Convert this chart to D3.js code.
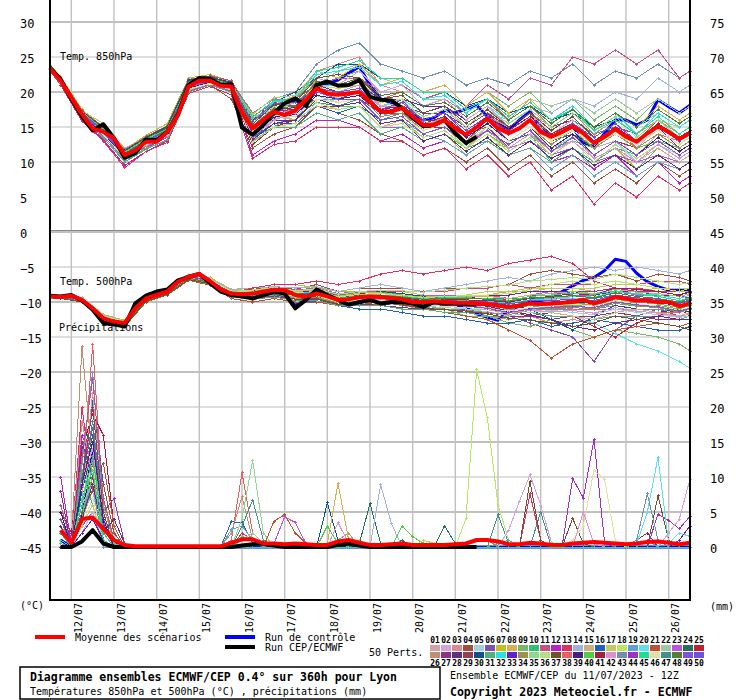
<!DOCTYPE html>
<html>
<head>
<meta charset="utf-8">
<script src="https://cdn.jsdelivr.net/npm/d3@7"></script>
<style>
body { margin: 0; background: #fff; }
text { font-family: "DejaVu Sans Mono", monospace; fill: #000; }
</style>
</head>
<body>
<svg id="chart" width="740" height="700"></svg>
<script>
// axis labels
var leftTicks = [30, 25, 20, 15, 10, 5, 0, -5, -10, -15, -20, -25, -30, -35, -40, -45];
var rightTicks = [75, 70, 65, 60, 55, 50, 45, 40, 35, 30, 25, 20, 15, 10, 5, 0];
var dayLabels = ["12/07", "13/07", "14/07", "15/07", "16/07", "17/07", "18/07", "19/07", "20/07", "21/07", "22/07", "23/07", "24/07", "25/07", "26/07"];

// 6-hourly series, from 0h (11/07 12Z) to 360h
var t850Mean = [23.4,21.6,19.2,16.8,14.8,14.3,13.4,11.0,11.7,12.9,12.9,14.3,16.7,20.8,21.6,21.6,20.9,20.8,17.0,14.8,16.0,17.2,16.7,17.4,18.9,20.5,19.8,19.6,19.8,20.0,18.6,17.2,17.2,17.7,16.5,15.3,15.3,16.0,14.8,13.9,15.0,16.2,14.8,14.1,14.8,16.0,14.3,13.6,14.3,15.1,14.1,12.7,13.6,14.7,13.6,12.9,14.1,15.1,14.3,13.3,14.1];
var t850Ctrl = [23.5,21.7,19.3,16.6,14.6,14.5,13.0,10.7,11.6,13.1,13.0,14.4,16.8,20.8,21.6,21.7,21.0,20.8,15.2,13.6,15.0,16.8,18.0,18.8,18.2,20.6,21.2,21.7,22.7,23.6,21.0,19.0,18.5,17.8,16.8,16.0,16.3,17.4,17.0,17.6,18.1,16.5,15.5,14.6,16.0,17.2,14.8,13.6,14.3,15.0,12.7,12.2,14.1,16.0,16.0,15.3,16.0,18.9,17.9,17.0,18.1];
var t850Cep = [23.5,21.8,19.0,16.5,14.5,15.4,13.4,10.6,11.3,13.2,13.1,14.3,16.8,21.0,22.0,21.9,21.0,21.1,14.9,13.9,15.3,17.0,18.4,19.1,18.0,21.0,21.5,20.9,21.0,21.7,19.3,18.9,18.8,17.7,16.3,15.1,15.3,16.0,14.1,12.7,13.6];
var t500Mean = [-9.2,-9.3,-9.1,-9.7,-10.9,-12.3,-12.8,-13.0,-10.9,-9.5,-9.0,-8.5,-7.1,-6.4,-6.0,-7.0,-8.2,-8.8,-8.9,-8.8,-8.5,-8.3,-8.3,-9.0,-9.2,-8.8,-9.2,-9.7,-9.6,-9.3,-9.2,-9.3,-9.4,-9.6,-10.0,-10.0,-9.9,-10.0,-10.1,-10.1,-10.2,-10.3,-10.5,-10.7,-10.5,-10.2,-10.3,-10.2,-10.1,-10.0,-9.7,-10.2,-9.8,-9.3,-9.5,-9.8,-9.8,-10.0,-10.0,-10.6,-10.2];
var t500Ctrl = [-9.2,-9.3,-9.1,-9.8,-11.0,-12.8,-13.1,-13.3,-10.4,-9.2,-8.6,-8.3,-7.0,-6.4,-6.1,-7.2,-8.4,-9.0,-9.1,-9.4,-9.1,-8.6,-8.9,-10.5,-9.6,-8.4,-9.1,-9.8,-10.3,-10.1,-9.8,-10.2,-10.1,-10.1,-10.3,-10.6,-10.2,-10.3,-10.4,-10.8,-11.7,-12.2,-12.6,-11.1,-10.6,-10.0,-9.8,-9.5,-8.5,-7.7,-6.9,-6.5,-5.5,-3.9,-4.2,-5.9,-7.1,-7.8,-8.3,-8.3,-8.3];
var t500Cep = [-9.1,-9.2,-9.0,-9.8,-11.1,-13.0,-13.2,-13.5,-10.2,-9.1,-8.5,-8.2,-6.9,-6.4,-6.0,-7.3,-8.5,-9.0,-9.2,-9.5,-9.0,-8.5,-8.8,-10.9,-9.7,-8.2,-9.0,-9.7,-10.4,-10.0,-9.7,-10.2,-10.0,-10.0,-10.2,-10.7,-10.0,-10.2,-10.2,-10.3,-10.4];

// 6h precipitation (mm), from 6h to 360h
var rrMean = [2.4,0.6,4.0,4.2,2.6,1.0,0.3,0.1,0.1,0.1,0.1,0.1,0.1,0.1,0.1,0.1,0.6,1.1,1.1,0.5,0.5,0.4,0.5,0.4,0.3,0.3,0.8,1.0,0.6,0.3,0.3,0.4,0.5,0.3,0.3,0.3,0.3,0.4,0.5,1.0,1.0,0.8,0.4,0.4,0.6,0.5,0.3,0.3,0.5,0.6,0.7,0.6,0.5,0.4,0.5,0.7,0.8,0.6,0.4,0.6];
var rrCtrl = [1,0,4,13.8, 3,0.5,0,0, 0,0,0,0, 0,0,0,0, 0,0,0,0, 0,0,0,0, 0,0,0,0, 0,0,0,0, 0,0,0,0, 0,0,0,0, 0,0,0,0, 0,0,0,0, 0,0,0,0, 0,0,0,0, 0,0,0,0];
var rrCep = [0,0,0.8,2.4, 0.5,0,0,0, 0,0,0,0, 0,0,0,0, 0,0.2,0.4,0.5, 0.2,0,0,0, 0,0,0.3,0.5, 0.2,0,0,0, 0,0,0,0, 0,0,0,0];

// perturbed members, temperatures every 12h (0h, 6h, 18h ... 354h, 360h)
var pertIds = [1,3,4,6,7,9,10,12,43,14,16,17,19,20,21,22,23,24,25,11,13,27,29,30,31,33,38,40,44,47,
  2,5,8,15,18,26,28,32,34,35,36,37,39,41,42,45,46,48,49,50];
var t850Perts = [
  [23.6,22,17,15,12,13.5,15,21,21.5,20,13,16,17,22,21,22,18,19,17,18,15,17,15,17,13,15,12,13,11,14,12,13],
  [23.2,21.5,16.5,14,10.5,12.5,14,20.5,21,21,16,18,19,23,24,25,21,20,18,19,16,18,16,19,16,18,15,17,15,18,16,17],
  [23.5,21.8,17.2,14.8,11.5,13,14,20,21,19,12,14,15,18,17,16,14,13,11,12,10,12,9,11,8,10,7,9,7,10,8,9],
  [23,21,16,13.5,10,12,13.5,20,22,21.5,15.5,18.5,18,21,20,21,17,18,16,17,14,16,13,15,12,14,11,13,11,13,11,12],
  [23.8,22.2,17.5,15,11.8,13.8,15.5,22,22.5,21.5,14,17,16,19,18,18,15,16,13,14,11,13,12,14,11,12,10,12,9,11,10,11],
  [23.3,21.4,16.4,13.8,10.2,12,13,20,21.8,21.2,15,17.5,18.5,21,22,23,20,21,19,20,18,20,18,20,17,19,16,18,16,19,17,18],
  [23.4,21.6,16.8,14.5,11.2,13.2,14.5,21.2,21.5,20.5,14.5,16.5,17,20,19,19,16,17,14,15,12,14,12,14,10,12,9,11,9,12,10,11],
  [23.1,21.2,16,13.2,9.5,11.5,13,20,21.2,20,11,13,14,16,16,15,13,14,12,13,11,13,11,12,10,11,9,11,8,10,7,8],
  [23.7,22,17,14.8,11.8,13.5,15,21.5,22,21.5,17,19,20,24,26,27,24,23,22,23,21,22,21,23,22,24,21,23,22,24,22,23],
  [23.5,21.7,17,14,10.8,12.8,14.2,21,21.7,20.8,14.8,17,18,20,19,20,18,19,16,17,15,17,16,18,17,19,18,20,19,22,20,21],
  [23.2,21.4,16.5,14.2,10.9,12.6,14,20.5,21.3,20.3,13.5,15.5,15.5,18,17,18,16,17,15,16,13,15,13,15,13,14,11,13,12,14,12,13],
  [23.6,21.9,17.3,15.5,11.5,13,14.5,21,21.8,21,15,17,17,21,19,19,16,17,14,15,12,15,13,15,12,14,12,15,13,16,15,16],
  [23.4,21.5,16.6,14,10.5,12.4,13.8,20.5,21.5,20.5,13,15,17,19,19,20,17,16,14,13,11,13,11,12,9,11,8,10,8,10,9,10],
  [23.5,21.8,17.1,14.6,11.2,13.1,14.6,21,21.9,21,16,18,18,21,21,21,19,19,17,18,16,18,16,18,16,17,15,17,15,17,15,16],
  [23.3,21.5,16.8,14.3,11,12.8,14.4,20.8,21.4,20.7,15,17.5,17,20,20,21,18,18,16,16,14,15,13,15,13,15,13,15,13,16,14,15],
  [23.6,21.8,17,14.4,11,13,14.6,21.3,22,21.6,14,16,18,21,23,24,22,21,19,19,17,19,17,19,18,19,17,19,17,19,17,18],
  [23.2,21.3,16.3,13.8,10.4,12.2,13.6,20.3,21,20.2,14,16.5,16,19,18,18,15,15,13,14,12,14,12,13,11,12,10,11,10,11,10,11],
  [23.5,21.7,17,14.8,11.5,13.4,15,21.6,22.2,21.3,15.5,18,19,22,21,21,18,18,16,16,13,15,13,14,12,14,12,14,12,15,13,14],
  [23.4,21.6,16.7,14.1,10.6,12.6,14,20.6,21.4,20.4,12.5,15,16,18,18,19,17,17,16,17,15,17,14,16,14,16,14,16,14,16,14,15],
  [23.7,22.1,17.3,15,11.7,13.6,15.2,21.8,22.3,21.6,16.5,18.5,19,21,22,22,20,21,19,20,18,21,19,22,21,25,24,26,24,26,22,23],
  [23,21,15.8,13,9.2,11.5,12.8,19.8,20.8,19.6,10.5,12.5,13,15,15,15,13,13,11,12,9,11,8,10,6,8,4,7,5,8,6,7],
  [23.5,21.8,17,14.4,11.2,13,14.4,20.9,21.7,20.9,14.8,17.3,17.5,19,18,19,17,18,17,17,15,17,15,17,15,16,14,15,13,15,13,14],
  [23.3,21.5,16.7,14.3,11,12.9,14.3,20.9,21.5,20.6,15.5,18,18,20,19,20,17,17,15,15,13,15,12,14,12,14,11,13,12,14,12,13],
  [23.6,21.9,17.2,14.9,11.6,13.5,15.1,21.7,22.1,21.4,16,18.5,20,22,24,24,22,22,20,20,18,19,17,18,16,17,15,16,14,16,14,15],
  [23.1,21.2,16.2,13.5,10,11.8,13.2,20,21,20,13.5,15,15,17,16,17,14,15,13,14,12,13,11,12,10,12,10,12,11,13,11,12],
  [23.4,21.6,16.9,14.4,11.1,13,14.4,21,21.6,20.8,14,16,16,20,20,21,19,19,18,18,16,18,15,17,14,16,13,15,13,15,12,13],
  [23.5,21.7,17,14.6,11.3,13.2,14.7,21.1,21.8,21,17,19,19,22,21,22,19,20,18,19,17,19,16,18,15,17,14,15,12,14,13,14],
  [23.2,21.4,16.5,14,10.7,12.5,13.9,20.4,21.2,20.3,14.5,17,17,19,18,18,15,16,13,14,12,14,12,14,12,13,12,14,12,13,12,13],
  [23.5,21.8,17.1,14.7,11.4,13.3,14.8,21.3,21.9,21.2,15,16.5,18,21,20,20,17,19,15,16,13,16,14,16,13,15,13,15,14,17,15,16],
  [23.3,21.5,16.6,14.2,10.9,12.7,14.1,20.6,21.4,20.5,14.2,16.8,16.5,18.5,18,19,16,17,15,16,14,16,14,16,14,16,14,15,13,15,13,14],
  [23.5,21.7,16.9,14.4,11.1,13,14.4,20.9,21.7,20.9,15.2,17.8,18.5,22,21,23,20,21,18,19,16,18,15,17,14,16,13,14,12,15,13,14],
  [23.3,21.4,16.6,14.1,10.8,12.7,14.1,20.6,21.4,20.6,13.8,16.2,16.5,19.5,18.5,19,16,16.5,14,15,12.5,15,13,15,12,13.5,11,13,10,12.5,11,12],
  [23.6,21.9,17.2,14.7,11.4,13.3,14.8,21.2,21.9,21.2,16.2,18.2,19.5,23,22,24,21,22,20,21,18,20,17,19,16,18,15,17,15,18,16,17],
  [23.2,21.3,16.4,13.9,10.6,12.4,13.8,20.3,21.2,20.4,14.2,16.5,16,18,17.5,18,15,16,13.5,14.5,12,14.5,12.5,14.5,12,14,10.5,12,10,12,10,11],
  [23.4,21.6,16.8,14.3,11,12.9,14.3,20.8,21.6,20.8,15.6,18,18,21,20.5,21,18.5,19,16,17,14.5,16.5,14,16,13,15,12,14,12,14,12,13],
  [23.5,21.8,17,14.5,11.2,13.1,14.5,21,21.8,21,14.5,16.8,17.5,20.5,19.5,20,17,17.5,15,16.5,14,16.5,15,17,15,17,14,16,14,16,14,15],
  [23.3,21.5,16.7,14.2,10.9,12.8,14.2,20.7,21.5,20.7,13.2,15.5,16,19,18,18.5,15.5,16,13,14,11.5,13.5,11,13,10.5,12,9.5,11,9,11,9,10],
  [23.6,21.8,17.1,14.6,11.3,13.2,14.6,21.1,21.8,21.1,15.8,18.6,19,22.5,23,23.5,21,21.5,19,19.5,17,19,16.5,18.5,16,18,15,17,14,17,15,16],
  [23.4,21.5,16.7,14.2,10.9,12.8,14.2,20.7,21.5,20.7,14.6,17,17,20,19,19.5,16.5,17,14.5,15.5,13,15.5,13,15,12.5,14.5,12,14,12,14,12,13],
  [23.5,21.7,16.9,14.4,11.1,13,14.4,20.9,21.7,20.9,16.8,19.2,19.5,21.5,21,21.5,18,18.5,16.5,17.5,15,17.5,15.5,17.5,15,17,14.5,16.5,13.5,16,13.5,14.5],
  [23.2,21.4,16.5,14,10.7,12.6,14,20.5,21.3,20.5,12.8,15,15.5,18.5,17.5,18,15,15.5,13.5,14.5,12,14,11.5,13.5,11,13,10,12.5,10.5,12.5,10.5,11.5],
  [23.6,21.9,17.2,14.8,11.5,13.4,14.9,21.4,22,21.3,15.4,18.2,18.5,22,22.5,22,19,19.5,17,18,15.5,17.5,15,17,14.5,16.5,13.5,15.5,13,15.5,13,14],
  [23.3,21.5,16.6,14.1,10.8,12.7,14.1,20.6,21.4,20.6,14,16.4,16.8,19.5,19,19.5,17,17.5,15.5,16,13.5,15.5,13,15,12,14,11,13,11,13.5,11.5,12.5],
  [23.5,21.7,17,14.5,11.2,13.1,14.5,21,21.7,20.9,15,17.4,17.8,21,20,20.5,17.5,18,15.5,16.5,14,16.5,14.5,16.5,14,15.5,13,15,13,15.5,13.5,14.5],
  [23.4,21.6,16.8,14.3,11,12.9,14.3,20.8,21.6,20.8,13.6,16,17,20,20,21,18,18,15.5,16,13,14.5,12,14,11.5,13,10.5,12,10,12.5,10.5,11.5],
  [23.6,21.9,17.1,14.7,11.4,13.3,14.7,21.2,21.9,21.1,16.4,18.8,19,23,23.5,24.5,22,22,20,20,17.5,19,16.5,18.5,16,17.5,14.5,16,14,16.5,14,15],
  [23.2,21.3,16.4,13.9,10.6,12.5,13.9,20.4,21.2,20.3,14.4,16.6,16.5,19,18.5,19,16,16.5,14.5,15.5,13,15,13,15,13,14.5,12.5,14,12.5,14.5,12.5,13.5],
  [23.5,21.8,17,14.5,11.2,13.1,14.6,21.1,21.8,21,15.2,17.6,18,21.5,21,22,19.5,20,18,18.5,16.5,18.5,16,18,15.5,17.5,15,17,15,17.5,15.5,16.5],
  [23.3,21.5,16.7,14.2,10.9,12.8,14.2,20.7,21.5,20.6,14.8,16.8,17.2,20,19,19,16,16.5,14,15,12.5,14.5,12.5,14.5,11.5,13.5,11,13,11,13,11,12],
  [23.4,21.7,16.9,14.4,11.1,13,14.4,20.9,21.6,20.8,15.8,18.4,18.5,20.5,20,20.5,17.5,18.5,16,17,14.5,16.5,14,16,13.5,15.5,13.5,15.5,13,15,13,14]
];
var t500Perts = [
  [-9.0,-9.1,-9.5,-12,-12.8,-9.3,-8.2,-6.2,-6.8,-8.5,-8.5,-8,-8.5,-8,-9,-8.5,-8.5,-9,-9.5,-9,-9.5,-9.5,-10,-9.5,-9.5,-9,-9.5,-8.5,-9,-9,-9.5,-9],
  [-9.3,-9.4,-9.9,-12.5,-13.3,-9.8,-8.8,-6.6,-7.3,-9.1,-9.3,-9,-9.8,-9.5,-10.5,-10,-10,-10.5,-11,-11,-11.5,-12,-12.5,-12,-13,-12.5,-13,-12,-12.5,-13,-13.5,-13],
  [-9.1,-9.2,-9.6,-12.2,-12.9,-9.4,-8.4,-6.3,-6.9,-8.6,-8.2,-7.8,-8.2,-7.5,-8.5,-8,-8,-8,-8.5,-8,-8,-8,-7.5,-6,-5.5,-6,-6.5,-6,-7,-6,-6.5,-7],
  [-9.2,-9.3,-9.8,-12.4,-13.1,-9.6,-8.6,-6.5,-7.1,-9,-9.2,-8.8,-9.5,-9.2,-10,-10,-10.5,-10,-10.5,-11,-11,-11.5,-12,-13,-14,-15,-18.5,-14,-12,-11,-12,-11.5],
  [-9.0,-9.0,-9.4,-11.8,-12.6,-9.2,-8.1,-6,-6.5,-8.2,-8,-7.5,-7.5,-8,-8.5,-8.5,-8.5,-9,-9,-9.5,-9,-9,-8.5,-8.5,-8,-8,-8.5,-8,-8.5,-8,-8.5,-8.5],
  [-9.4,-9.5,-10,-12.6,-13.4,-10,-9,-6.8,-7.5,-9.3,-9.5,-9,-9,-9.5,-10,-9.5,-10,-10.5,-10.5,-11,-12,-12,-13,-13.5,-12.5,-14,-15,-14,-14.5,-15,-16,-17],
  [-9.2,-9.3,-9.7,-12.3,-13,-9.5,-8.5,-6.4,-7,-8.8,-8.8,-8.3,-9,-8.8,-9.7,-9.3,-9.3,-9.6,-10,-10,-10,-10,-10.5,-10,-10,-10,-10.5,-10,-10,-10,-10.5,-10],
  [-9.1,-9.2,-9.6,-12.1,-12.8,-9.3,-8.3,-6.2,-6.8,-8.6,-8.6,-8,-8.8,-8.5,-9.5,-9,-9,-9,-9.5,-9.5,-9.5,-9.5,-10,-9.5,-9.5,-9.5,-10,-9.5,-9.5,-9.5,-10,-9.5],
  [-9.3,-9.4,-9.8,-12.5,-13.2,-9.7,-8.7,-6.6,-7.2,-9,-9,-8.6,-9.3,-9.2,-10,-9.8,-9.8,-10,-10.5,-10.5,-10.5,-11,-11,-11,-11,-11,-11,-10.5,-11,-11,-11.5,-11],
  [-9.0,-9.1,-9.4,-11.9,-12.7,-9.2,-8,-6,-6.6,-8.3,-8,-7.8,-8,-7.8,-8.5,-8,-7.5,-8,-8.5,-8,-7.5,-7,-6.5,-7,-6,-5.5,-5,-5.5,-5,-5.5,-6,-5.5],
  [-9.2,-9.4,-9.9,-12.4,-13.1,-9.6,-8.6,-6.5,-7.1,-8.9,-9.5,-9.3,-9.8,-10,-10.5,-11,-11,-11.5,-12,-12,-12.5,-13,-13,-12.5,-13.5,-13,-12.5,-13,-13.5,-14,-14,-13.5],
  [-9.1,-9.2,-9.6,-12.2,-12.9,-9.4,-8.4,-6.3,-6.9,-8.7,-8.5,-8,-8.6,-8.2,-9,-8.5,-8.5,-8.5,-9,-9,-9,-8.5,-8.5,-8,-8,-8,-8,-7.5,-7.5,-8,-8,-8],
  [-9.3,-9.4,-9.8,-12.4,-13.2,-9.7,-8.7,-6.6,-7.2,-9,-9.2,-9,-9.5,-9.5,-10,-9.5,-9.5,-10,-10.5,-10,-10.5,-10.5,-11,-10.5,-11,-10.5,-11,-10,-10.5,-10.5,-11,-10.5],
  [-9.2,-9.3,-9.8,-12.4,-13.1,-9.6,-8.6,-6.5,-7.1,-9,-9,-8.5,-9.2,-9,-10,-9.8,-10,-10,-10.5,-10.5,-11,-11,-11.5,-11,-11.5,-12,-13,-14.5,-16,-17,-18.5,-19.5],
  [-9.4,-9.5,-10,-12.7,-13.5,-10,-9,-6.9,-7.6,-9.5,-10,-9.5,-10,-10,-10.5,-10,-10.5,-11,-11,-11.5,-12,-12.5,-14,-15.5,-18,-16,-15,-14,-13.5,-13,-13.5,-13],
  [-9.0,-9.1,-9.5,-12,-12.7,-9.2,-8.2,-6.1,-6.7,-8.4,-8.4,-8.2,-8.6,-8.2,-9.2,-8.8,-9,-9.2,-9.5,-9.5,-9.5,-9.5,-9.5,-9,-9,-9.5,-9.5,-9,-9.5,-9.5,-10,-9.5],
  [-9.2,-9.3,-9.7,-12.3,-13,-9.5,-8.5,-6.4,-7,-8.8,-8.3,-8,-8.3,-8,-8.8,-8.5,-8.5,-9,-9,-9,-9,-9,-9.5,-9,-8.5,-9,-9,-8.5,-9,-9,-9.5,-9],
  [-9.1,-9.2,-9.6,-12.1,-12.9,-9.4,-8.4,-6.3,-6.9,-8.6,-8.6,-8.2,-8.8,-8.6,-9.4,-9,-9,-9.4,-9.8,-9.8,-10,-10,-10,-10,-10,-9.8,-10,-9.5,-10,-10,-10.5,-10],
  [-9.3,-9.4,-9.8,-12.4,-13.2,-9.7,-8.7,-6.6,-7.2,-9,-9.2,-8.8,-9.3,-9.2,-10,-9.5,-9.5,-9.8,-10.2,-10.5,-10.5,-11,-11.5,-12,-11.5,-12,-13.5,-15,-13,-12,-11,-12],
  [-9.2,-9.3,-9.7,-12.3,-13,-9.5,-8.5,-6.4,-7,-8.8,-8.6,-8.2,-8.5,-8.5,-9.2,-8.8,-8.5,-8.5,-8.5,-8.5,-8,-8,-7.5,-8,-7.5,-7.5,-7.5,-7,-7.5,-7,-7,-7.5],
  [-9.1,-9.2,-9.6,-12.2,-12.9,-9.4,-8.4,-6.3,-6.9,-8.7,-8,-7.5,-7.5,-7,-7.5,-7,-6,-5.5,-6,-5.5,-5,-5.5,-4.5,-4,-3.5,-4.5,-7,-8,-8,-8.5,-8.5,-8],
  [-9.3,-9.4,-9.9,-12.5,-13.3,-9.8,-8.8,-6.7,-7.3,-9.1,-9.4,-9.2,-9.6,-9.6,-10.4,-10.3,-10.5,-10.8,-11,-11,-11.5,-11.5,-12,-12,-12.5,-12,-12,-11.5,-12,-12.5,-12.5,-12],
  [-9.2,-9.3,-9.7,-12.3,-13,-9.5,-8.5,-6.4,-7,-8.8,-8.8,-8.4,-9,-8.8,-9.6,-9.3,-9.3,-9.6,-10,-9.5,-9.5,-9.5,-10,-9.5,-9.5,-9.5,-10,-9,-9.5,-9.5,-10,-9.5],
  [-9.0,-9.1,-9.5,-12,-12.8,-9.3,-8.3,-6.2,-6.8,-8.5,-8.4,-8,-8.6,-8.4,-9,-8.8,-8.5,-8.8,-9.2,-9.5,-9.8,-10,-10.5,-11,-12.5,-14,-12,-10.5,-11,-11.5,-11,-11.5],
  [-9.4,-9.5,-10,-12.6,-13.4,-9.9,-8.9,-6.8,-7.5,-9.3,-9.6,-9.3,-9.8,-9.8,-10.5,-10.5,-10.5,-11,-11,-11.5,-11.5,-12,-12,-11.5,-12,-12,-12.5,-12,-12,-12,-12.5,-12],
  [-9.2,-9.3,-9.7,-12.3,-13,-9.5,-8.5,-6.4,-7,-8.8,-8.7,-8.3,-8.9,-8.7,-9.5,-9.2,-9,-9.2,-9.5,-9.5,-9.5,-9,-9,-8.5,-8.5,-8.5,-9,-8.5,-8.5,-9,-9,-8.5],
  [-9.1,-9.2,-9.6,-12.1,-12.9,-9.4,-8.4,-6.3,-6.9,-8.6,-8.6,-8.2,-8.8,-8.6,-9.4,-9.2,-9.2,-9.4,-9.8,-10,-10,-10.5,-10.5,-10.5,-10.5,-11,-11,-11,-11,-11.5,-11.5,-11],
  [-9.3,-9.4,-9.9,-12.5,-13.2,-9.7,-8.7,-6.6,-7.2,-9,-9.1,-8.7,-9.4,-9.3,-10.1,-9.8,-9.8,-10.1,-10.4,-10.4,-10.5,-10.5,-10.8,-10.5,-10.5,-10.5,-10.5,-10,-10.5,-10.5,-11,-10.5],
  [-9.2,-9.3,-9.7,-12.3,-13,-9.5,-8.5,-6.4,-7,-8.8,-8.9,-8.4,-9,-9,-9.8,-9.3,-9.5,-9.8,-10,-10,-10,-10,-9.5,-9,-9,-8.5,-8.5,-8,-8.5,-8.5,-9,-9.5],
  [-9.0,-9.1,-9.5,-12,-12.8,-9.3,-8.3,-6.2,-6.8,-8.5,-8.3,-7.9,-8.4,-8.2,-9,-8.6,-8.6,-9,-9.3,-9.3,-9.5,-9.5,-9.5,-9.5,-9.5,-9.5,-9.5,-9,-9.5,-9.5,-10,-9.5],
  [-9.1,-9.3,-9.6,-12.2,-12.9,-9.4,-8.4,-6.3,-6.9,-8.7,-8.7,-8.1,-8.9,-8.6,-9.5,-9.1,-9.1,-9.5,-9.8,-9.6,-9.8,-10,-10.2,-9.8,-9.6,-9.5,-9.8,-9.2,-9.5,-9.8,-10.2,-9.8],
  [-9.3,-9.4,-9.8,-12.4,-13.1,-9.6,-8.6,-6.5,-7.1,-9,-9.1,-8.6,-9.3,-9.1,-10,-9.7,-9.8,-10.2,-10.6,-10.8,-11,-11.4,-12,-11.5,-11.2,-11.5,-11.8,-11,-11.5,-11.8,-12.2,-12],
  [-9.2,-9.2,-9.6,-12.2,-12.9,-9.4,-8.4,-6.3,-6.9,-8.7,-8.5,-7.9,-8.5,-8.3,-9.2,-8.7,-8.7,-9,-9.3,-9.2,-9.2,-9.2,-9.5,-9,-8.8,-8.5,-8.8,-8.2,-8.6,-8.8,-9.2,-8.8],
  [-9.2,-9.3,-9.8,-12.4,-13.1,-9.6,-8.6,-6.5,-7.1,-8.9,-9,-8.5,-9.2,-9,-9.9,-9.6,-9.6,-9.9,-10.3,-10.3,-10.5,-10.8,-11.2,-11,-11.5,-12,-12.5,-11.5,-11,-11.5,-12,-11.5],
  [-9.1,-9.2,-9.6,-12.1,-12.8,-9.3,-8.3,-6.3,-6.9,-8.6,-8.5,-8.1,-8.7,-8.5,-9.3,-8.9,-8.8,-9.1,-9.4,-9.2,-9.1,-9,-8.8,-8.2,-7.5,-7,-7.5,-7,-7.5,-8,-8.5,-8],
  [-9.3,-9.4,-9.8,-12.4,-13.2,-9.7,-8.7,-6.6,-7.2,-9,-9,-8.5,-9.2,-9,-9.9,-9.5,-9.5,-9.8,-10.2,-10.2,-10.3,-10.5,-10.8,-10.4,-10.4,-10.2,-10.5,-9.6,-10,-10.3,-10.8,-10.4],
  [-9.2,-9.3,-9.7,-12.3,-13,-9.5,-8.5,-6.4,-7,-8.8,-8.8,-8.4,-9.1,-8.9,-9.8,-9.4,-9.4,-9.7,-10.1,-10.1,-10.3,-10.6,-11.3,-11.8,-12.5,-13.5,-14,-13,-12.5,-12,-12.5,-12.5],
  [-9.1,-9.2,-9.6,-12.2,-12.9,-9.4,-8.4,-6.3,-6.9,-8.7,-8.6,-8.1,-8.8,-8.6,-9.5,-9.1,-9.1,-9.4,-9.7,-9.7,-9.8,-9.9,-10.2,-9.7,-9.5,-9.2,-9.3,-8.5,-8.8,-9,-9.5,-9],
  [-9.3,-9.5,-9.9,-12.5,-13.3,-9.8,-8.8,-6.7,-7.3,-9.1,-9.2,-8.8,-9.5,-9.4,-10.2,-9.9,-10,-10.3,-10.8,-11,-11.2,-11.5,-11.8,-11.2,-11,-10.8,-11,-10.2,-10.6,-10.8,-11.4,-11],
  [-9.2,-9.3,-9.7,-12.3,-13,-9.5,-8.5,-6.4,-7,-8.8,-8.7,-8.2,-8.9,-8.7,-9.6,-9.2,-9.2,-9.5,-9.9,-9.9,-10,-10.2,-10.6,-10.1,-10.1,-9.9,-10.1,-9.2,-9.7,-9.9,-10.5,-10.1],
  [-9.0,-9.1,-9.5,-12,-12.7,-9.2,-8.2,-6.1,-6.7,-8.5,-8.3,-7.9,-8.4,-8.1,-8.9,-8.5,-8.3,-8.4,-8.6,-8.3,-8,-7.8,-7.6,-7,-6.8,-6.5,-6.8,-6,-6.5,-7,-7.5,-7.2],
  [-9.4,-9.5,-10,-12.6,-13.4,-9.9,-8.9,-6.8,-7.4,-9.2,-9.3,-8.9,-9.6,-9.5,-10.3,-10,-10.1,-10.4,-10.9,-11.1,-11.3,-11.7,-12.3,-12.6,-13,-13.5,-13,-12,-12.5,-13,-13.5,-14],
  [-9.2,-9.3,-9.7,-12.3,-13,-9.5,-8.5,-6.4,-7,-8.8,-8.8,-8.3,-9,-8.8,-9.7,-9.3,-9.3,-9.6,-10,-10,-10.1,-10.3,-10.7,-10.2,-10.2,-10,-10.2,-9.3,-9.8,-10,-10.6,-10.2],
  [-9.1,-9.2,-9.6,-12.2,-12.9,-9.4,-8.4,-6.3,-6.9,-8.7,-8.6,-8.2,-8.8,-8.7,-9.5,-9.2,-9.1,-9.4,-9.8,-9.7,-9.7,-9.8,-10,-9.5,-9.2,-8.8,-9,-8,-8.2,-8.5,-9,-8.6],
  [-9.3,-9.4,-9.8,-12.4,-13.1,-9.6,-8.6,-6.5,-7.1,-8.9,-9,-8.6,-9.3,-9.1,-10,-9.6,-9.7,-10,-10.5,-10.6,-10.8,-11.1,-11.6,-11.2,-11.4,-11.2,-11.6,-10.8,-11.3,-11.6,-12.1,-11.7],
  [-9.2,-9.3,-9.7,-12.3,-13,-9.5,-8.5,-6.4,-7,-8.8,-8.6,-8.1,-8.8,-8.6,-9.5,-9.1,-9,-9.2,-9.5,-9.4,-9.4,-9.5,-9.8,-9.2,-9,-8.7,-8.9,-8.4,-8.9,-9.2,-9.8,-9.4],
  [-9.1,-9.2,-9.6,-12.1,-12.8,-9.3,-8.3,-6.2,-6.8,-8.6,-8.9,-8.5,-9.2,-9.1,-10,-9.7,-9.8,-10.1,-10.5,-10.6,-10.8,-11,-11.3,-10.8,-10.6,-10.3,-10.6,-9.8,-10.3,-10.6,-11.2,-10.8],
  [-9.3,-9.4,-9.9,-12.5,-13.2,-9.7,-8.7,-6.6,-7.2,-9,-8.9,-8.4,-9.1,-8.8,-9.7,-9.2,-9.1,-9.3,-9.6,-9.5,-9.5,-9.6,-9.9,-9.4,-9.3,-9.1,-9.4,-8.7,-9.2,-9.5,-10.1,-9.7],
  [-9.2,-9.3,-9.7,-12.3,-13,-9.5,-8.5,-6.4,-7,-8.8,-8.8,-8.3,-9,-8.9,-9.8,-9.4,-9.5,-9.8,-10.3,-10.4,-10.6,-10.9,-11.5,-11,-10.8,-10.6,-10.8,-10,-10.4,-10.7,-11.3,-10.9],
  [-9.1,-9.2,-9.6,-12.2,-12.9,-9.4,-8.4,-6.3,-6.9,-8.7,-8.7,-8.3,-8.9,-8.7,-9.6,-9.2,-9.2,-9.5,-9.9,-9.8,-9.9,-10,-10.3,-9.8,-9.8,-9.6,-9.8,-9,-9.4,-9.6,-10.2,-9.8]
];

// perturbed members, 6h precipitation (one group of 4 values per day)
var rrPertIds = [38,26,16,41,44,12,13,19,35,47,21,37,23,30,8,24,14,18,46,2,20,43,42,40,1,3,4,6,9,10,11,17,22,27,28,29,31,33,39,45];
var rrPerts = [
  [2,0,8,28.9, 6,1,0,0, 0,0,0,0, 0,0,0,0, 1,10.6,2,0.5, 0.5,0,0,0, 0,0,0,0, 0,0,0,0, 0,0,0,0, 0,0,0.5,1, 1,0,0,0, 0,0,0,0, 0,0,0,0, 0,0,0,0, 0,0,0,0],
  [3,1,28.6,12, 3,0,0,0, 0,0,0,0, 0,0,0,0, 2,7.2,1,0, 0,0,0,0, 0,0,1,2, 0,0,0,0, 0,0,0,0, 0,0,0,0, 0,0,0,0, 0,0,0,0, 0,0,0,0, 0,0,0,0, 0,0,0,0],
  [4,1,10,20.8, 9,2,0,0, 0,0,0,0, 0,0,0,0, 3.6,3.5,0.5,0, 0,0,0,0, 0,0,0,0, 0,0,0,0, 0,0,0,0, 0,0,0,0, 0,0,0,0, 0,0,0,0, 0,0,0,0, 0,0,0,0, 0,0,0,0],
  [5,2,14,19, 16,3,0,0, 0,0,0,0, 0,0,0,0, 0,0,0,0, 0,0,0,0, 0,0,0,0, 0,0,0,0, 0,0,0,0, 0,0,0,0, 0,0,0,0, 0,0,0,0, 0,0,0,0, 0,0,1,2, 0,0,0,0],
  [1,0,3,5, 5,6.9,0.5,0, 0,0,0,0, 0,0,0,0, 0,0,0,0, 0,0,0,0, 0,0,0,0, 0,0,0,0, 0,0,0,0, 0,0,0,0, 0,0,0,0, 0,0,0,0, 9.8,7,15.4,0.5, 0,0,0,0, 4.7,3.8,2.6,4.4],
  [10,0.5,16,12, 2,0,0,0, 0,0,0,0, 0,0,0,0, 0,0,0,0, 0,0,0,0, 0,0,0,0, 0,0,0,0, 0,0,0,0, 0,0,0,0, 0,0,0,0, 0,0,0,0, 0,0,0,0, 0,0,0,0, 0,0,0,0],
  [6,0.5,20,8, 1,0,0,0, 0,0,0,0, 0,0,0,0, 0,2,1,0, 0,0,0,0, 0,0,0,0, 0,0,0,0, 0,0,0,0, 0,0,0,0, 0,0,0,0, 7.6,1,0,0, 0,0,0,0, 0,0,0,0, 0,0,0,0],
  [3,0,12,25, 5,0,0,0, 0,0,0,0, 0,0,0,0, 2.5,3,1,0, 0,0,0,0, 0,0,0,0, 0,0,0,0, 0,0,0,0, 0,0,0,0, 0,0,0,0, 0,0,0,0, 0,0,0,0, 0,0,0,1, 0,0,0,0],
  [2,0,6,15, 3,0,0,0, 0,0,0,0, 0,0,0,0, 0,4,12.4,2, 0,0,0,0, 0,0,0,0, 0,0,0,0, 0,0,0,0, 0,0,0,0, 0,0,0,0, 0,0,0,0, 0,0,0,0, 0,0,0,0, 0,0,0,0],
  [1,0,9,18, 4,0,0,0, 0,0,0,0, 0,0,0,0, 0,3,6.7,1, 0,0,0,0, 0,0,0,0, 0,0,0,0, 0,0,0,0, 0,0,0,0, 0,4.6,0.5,0, 0,5,0,0, 0,0,0,0, 0,0,0,0, 0,0,0,0],
  [1,0,4,10, 12,3,0,0, 0,0,0,0, 0,0,0,0, 0,0,0,0, 3.7,4.6,2,0.5, 0,0,0,0, 0,0,0,0, 0,0,0,0, 0,0,0,0, 0,0,0,0, 0,0,0,0, 0,0,0,0, 0,0,0,0, 0,0,0,0],
  [0,0,3,12, 4,0,0,0, 0,0,0,0, 0,0,0,0, 0,0,0,0, 0,0,0,0, 0,0,0,0, 0,0,0,0, 0,0,0,0, 0,0,0,0, 0,0,0,0, 9.4,1,0,0, 4.1,0.5,0,0, 0,0,0,0, 7.3,1,0,0],
  [2,0,5,9, 2,0,0,0, 0,0,0,0, 0,0,0,0, 0,0,0,0, 0.5,4.3,3.5,0.5, 0,0,0,0, 0,0,0,0, 0,0,0,0, 0,0,0,0, 0,0,0,0, 0,0,0,0, 0,0,0,0, 0,0,0,0, 0,0,0,0],
  [2,0,8,14, 3,0,0,0, 0,0,0,0, 0,0,0,0, 0,0,0,0, 0,0,0,0, 0,6.3,1,0, 0,0,0,0, 0,0,0,0, 0,0,0,0, 0,0,0,0, 0,0,0,0, 0,0,0,0, 0,0,0,0, 0,0,0,0],
  [1,0,7,11, 2,0,0,0, 0,0,0,0, 0,0,0,0, 0,0,0,0, 0,0,0,0, 0,0.5,9.1,1, 1,0,0,0, 0,0,0,0, 0,0,0,0, 0,0,0,0, 0,0,0,0, 0,0,0,0, 0,0,0,0, 0,0,0,0],
  [3,0,9,16, 1,0,0,0, 0,0,0,0, 0,0,0,0, 0,0,0,0, 0,0,0,0, 0,0,0,0, 0.5,6.2,0.5,0, 1,0,0,0, 3,0.5,0,0, 0,0,0,0, 0,0,0,0, 0,0,0,0, 0,0,0,0, 0,0,0,0],
  [1,0,4,8, 1,0,0,0, 0,0,0,0, 0,0,0,0, 0,0,0,0, 0,0,0,0, 0,0,0,0, 0,0,8.9,3.4, 0,0,0,0, 0,0,0,0, 0,0,0,0, 0,0,0,0, 0,0,0,0, 0,0,0,0, 0,0,0,0],
  [4,0,6,12, 2,0,0,0, 0,0,0,0, 0,0,0,0, 0,0,0,0, 0,0,0,0, 0,0,0,0, 0,0,0,0, 0,0,0,0, 0,0,4.1,25.3, 18.5,6,1,0, 0,0,0,0, 0,0,0,0, 0,0,0,0, 0,0,0,0],
  [1,0,3,7, 1,0,0,0, 0,0,0,0, 0,0,0,0, 0,0,0,0, 0,0,0,0, 0,0,0,0, 0,0,0,0, 0,0,0,0, 0,0,0,0, 0,0,0,0, 0,0,0,0, 1,3,11,9.6, 1,0,0,0, 0,0,0,0],
  [0,0,2,5, 0,0,0,0, 0,0,0,0, 0,0,0,0, 0,0,0,0, 0,0,0,0, 0,0,0,0, 0,0,0,0, 0,0,0,0, 0,0,0,0, 0,0,2.4,6.5, 10.3,6,0.7,0, 0,0,0,0, 0,0,0,0, 0,2,4,9.7],
  [0,0,3,6, 0,0,0,0, 0,0,0,0, 0,0,0,0, 0,0,0,0, 0,0,0,0, 0,0,0,0, 0,0,0,0, 0,0,0,0, 0,0,0,0, 0,0,0,0, 0,0,0,0, 0,0,0,0, 0,0,0.5,5, 12.8,0.5,2,1.5],
  [1,0,5,9, 0,0,0,0, 0,0,0,0, 0,0,0,0, 0,0,0,0, 0,0,0,0, 0,0,0,0, 0,0,0,0, 0,0,0,0, 0,0,0,0, 0,0,0,0, 0,0,0,0, 0,0,0,0, 0,0,1,7.6, 1,0,0,0],
  [3,0,9,14, 2,0,0,0, 0,0,0,0, 0,0,0,0, 0,0,0,0, 0,0,0,0, 0,0,3.5,0.5, 0,0,0,0, 0,0,0,0, 0,0,0,0, 0,0,0,0, 0,0,0,0, 0,5,0.5,0, 0,0,0,0, 0,0,0,0],
  [2,0,5,10, 1,0,0,0, 0,0,0,0, 0,0,0,0, 0,0,0,0, 0,0,0,0, 0,3,0.5,0, 0,0,0,0, 3,1.5,0.5,0, 0,0,0,0, 0,0,0,0, 0,0,0,0, 0,0,0,0, 0,0,0,0, 0,0,0,0],
  [2,0,7,22, 4,1,0,0, 0,0,0,0, 0,0,0,0, 0,0,0,0, 0,0,0,0, 0,0,0,0, 0,0,0,0, 0,0,0,0, 0,0,0,0, 0,0,0,0, 0,0,0,0, 0,0,0,0, 0,0,0,0, 0,0,0,0],
  [3,0.5,18,10, 2,0,0,0, 0,0,0,0, 0,0,0,0, 0,0,0,0, 0,0,0,0, 0,0,0,0, 0,0,0,0, 0,0,0,0, 0,0,0,0, 0,0,0,0, 0,0,0,0, 0,0,0,0, 0,0,0,0, 0,0,0,0],
  [1,0,5,8, 9,2,0,0, 0,0,0,0, 0,0,0,0, 0,0,0,0, 0,0,0,0, 0,0,0,0, 0,0,0,0, 0,0,0,0, 0,0,0,0, 0,0,0,0, 0,0,0,0, 0,0,0,0, 0,0,0,0, 0,0,0,0],
  [4,0,10,17, 3,0,0,0, 0,0,0,0, 0,0,0,0, 0,0,0,0, 0,0,0,0, 0,0,0,0, 0,0,0,0, 0,0,0,0, 0,0,0,0, 0,0,0,0, 0,0,0,0, 0,0,0,0, 0,0,0,0, 0,0,0,0],
  [0.5,0,4,12, 6,0.5,0,0, 0,0,0,0, 0,0,0,0, 0,1.5,1,0, 0,0,0,0, 0,0,0,0, 0,0,0,0, 0,0,0,0, 0,0,0,0, 0,0,0,0, 0,0,0,0, 0,0,0,0, 0,0,0,0, 0,0,0,0],
  [2,0,11,6, 1,0,0,0, 0,0,0,0, 0,0,0,0, 0,0,0,0, 0,0,0,0, 0,0,0,0, 0,0,0,0, 0,0,0,0, 0,0,0,0, 0,0,0,0, 0,0,0,0, 0,0,0,0, 0,0,0,0, 0,0,0,0],
  [6,0.5,13,24, 7,1,0,0, 0,0,0,0, 0,0,0,0, 0,0,0,0, 0,0,0,0, 0,0,0,0, 0,0,0,0, 0,0,0,0, 0,0,0,0, 0,0,0,0, 0,0,0,0, 0,0,0,0, 0,0,0,0, 0,0,0,0],
  [1,0,3,6, 1,0,0,0, 0,0,0,0, 0,0,0,0, 0,0,0,0, 0,0,0,0, 0,0,0,0, 0,0,0,0, 0,0,1,0.5, 0,0,0,0, 0,0,0,0, 0,0,0,0, 0,0,0,0, 0,0,0,0, 0,0,0,0],
  [0,0,6,9, 2,0,0,0, 0,0,0,0, 0,0,0,0, 0,1,2,0.5, 0.5,0,0,0, 0,0,0,0, 0,0,0,0, 0,0,0,0, 0,0,0,0, 0,0,0,0, 0,0,0,0, 0,0,0,0, 0,0,0,0, 0,0,0,0],
  [8,0,15,10, 3,0,0,0, 0,0,0,0, 0,0,0,0, 0,0,0,0, 0,0,0,0, 0,0,0,0, 0,0,0,0, 0,0,0,0, 0,0,0,0, 0,0,0,0, 0,0,0,0, 0,0,0,0, 0,0,0,0, 0,0,0,0],
  [3,0,4,9, 2,4,0.5,0, 0,0,0,0, 0,0,0,0, 0,0,0,0, 0,0,0,0, 0,0,0,0, 0,0,0,0, 0,0,0,0, 0,0,0,0, 0,0,0,0, 0,0,0,0, 0,0,0,0, 0,0,0,0, 0,0,0,0],
  [1,0,9,20, 5,0,0,0, 0,0,0,0, 0,0,0,0, 0,0,0,0, 0,0,0,0, 0,0,0,0, 0,0,0,0, 0,0,0,0, 0,0,0,0, 0,0,0,0, 0,0,0,0, 0,0,0,0, 0,0,0,0, 0,0,0,0],
  [2,0,6,13, 2,0,0,0, 0,0,0,0, 0,0,0,0, 0,0,0,0, 0,0,0,0, 0,0,0,0, 0,0,0,0, 0,0,0,0, 0,0,0,0, 0,0.5,1,0, 0,0,0,0, 0,0,0,0, 0,0,0,0, 0,0,0,0],
  [0,0,2,4, 1,0,0,0, 0,0,0,0, 0,0,0,0, 0,0,0,0, 0,0,0,0, 0,0,0,0, 0,0,0,0, 0,0,0,0, 0,0,0,0, 0,0,0,0, 0,0,0,0, 0,0,0,0, 0,0,0,0, 0,0,1,3],
  [5,0,9,15, 4,0,0,0, 0,0,0,0, 0,0,0,0, 0,0,0,0, 0,0,0,0, 0,0,0,0, 0,0,0,0, 0,0,0,0, 0,0,0,0, 0,0,0,0, 0,0,0,0, 0,0,0,0, 0,0,0,0, 0,0,0,0],
  [1,0,7,11, 1,0,0,0, 0,0,0,0, 0,0,0,0, 0,0,0,0, 0,0,0,0, 0,0,0,0, 0,0,0,0, 0,0,0,0, 0,0,0,0, 0,0,0,0, 0,0,0,0, 0,0,0,0, 0,0,0,0, 0,0,0,0]
];

var pertColors = ["#d4a0a8","#d4a0e0","#e08890","#a0503a","#a0d0e8","#8050b0","#c0c020","#d8b050","#78b868","#30c070",
  "#c85080","#c020c0","#e03060","#a0b0e0","#d0b080","#2060c0","#c8c860","#b8e860","#60a0d8","#60e0e8",
  "#c05030","#a0c8a0","#c050e0","#207060","#c02030",
  "#c09070","#903080","#603080","#904050","#105090","#50b080","#30e0e0","#6020d0","#a09050","#90d890",
  "#b0e080","#705030","#e86060","#402080","#50d040","#a02040","#e090d0","#7090b0","#a030c0","#20e090",
  "#e0e0a0","#409090","#508030","#8050e0","#7050e0"];

var hours6 = d3.range(0, 361, 6),
    rrHours = d3.range(6, 361, 6),
    pertHours = [0].concat(d3.range(6, 355, 12), [360]),
    dayHours = d3.range(12, 360, 24);

var svg = d3.select("#chart");
var x = d3.scaleLinear().domain([0, 360]).range([50, 690]);
var yT = d3.scaleLinear().domain([-45, 30]).range([547, 22]);
var yR = d3.scaleLinear().domain([0, 75]).range([547, 22]);

// grid
var grid = svg.append("g");
grid.selectAll("line.v").data(dayHours).enter().append("line")
  .attr("x1", function(d){ return x(d); }).attr("x2", function(d){ return x(d); })
  .attr("y1", 0).attr("y2", 600)
  .attr("stroke", "#c0c0c0").attr("stroke-width", 1.4);
grid.selectAll("line.h").data(leftTicks).enter().append("line")
  .attr("x1", 50).attr("x2", 690)
  .attr("y1", function(d){ return yT(d); }).attr("y2", function(d){ return yT(d); })
  .attr("stroke", "#c0c0c0")
  .attr("stroke-width", function(d){ return d % 10 === 0 ? 2.2 : 1.2; });
grid.append("line")
  .attr("x1", 50).attr("x2", 690).attr("y1", yT(0) - 1.5).attr("y2", yT(0) - 1.5)
  .attr("stroke", "#888").attr("stroke-width", 1.2);

function lineFor(hrs, scale) {
  return d3.line()
    .x(function(d, i){ return x(hrs[i]); })
    .y(function(d){ return scale(d); });
}
function drawSeries(g, hrs, vals, scale, color, width) {
  return g.append("path")
    .datum(vals)
    .attr("fill", "none")
    .attr("stroke", color)
    .attr("stroke-width", width)
    .attr("stroke-linejoin", "round")
    .attr("d", lineFor(hrs, scale));
}
function drawMarks(g, hrs, vals, scale, color) {
  g.selectAll(null).data(vals).enter().append("path")
    .attr("transform", function(d, i){ return "translate(" + x(hrs[i]) + "," + scale(d) + ")"; })
    .attr("d", "M-1.5,0H1.5M0,-1.5V1.5")
    .attr("stroke", color)
    .attr("stroke-width", 1);
}

// control run goes under the members
var ctrl = svg.append("g");
drawSeries(ctrl, hours6, t850Ctrl, yT, "#0000ff", 3);
drawSeries(ctrl, hours6, t500Ctrl, yT, "#0000ff", 3);
drawSeries(ctrl, rrHours, rrCtrl, yR, "#0000ff", 3);

var members = svg.append("g").attr("shape-rendering", "crispEdges");
t850Perts.forEach(function(p, k){
  var c = pertColors[pertIds[k] - 1];
  drawSeries(members, pertHours, p, yT, c, 1);
  drawMarks(members, pertHours, p, yT, c);
});
t500Perts.forEach(function(p, k){
  var c = pertColors[pertIds[k] - 1];
  drawSeries(members, pertHours, p, yT, c, 1);
  drawMarks(members, pertHours, p, yT, c);
});
rrPerts.forEach(function(p, k){
  var c = pertColors[rrPertIds[k] - 1];
  drawSeries(members, rrHours, p, yR, c, 1);
  drawMarks(members, rrHours, p, yR, c);
});

var main = svg.append("g");
drawSeries(main, hours6, t850Cep, yT, "#000", 4);
drawSeries(main, hours6, t500Cep, yT, "#000", 4);
drawSeries(main, rrHours, rrCep, yR, "#000", 4);
drawSeries(main, hours6, t850Mean, yT, "#ff0000", 4);
drawSeries(main, hours6, t500Mean, yT, "#ff0000", 4);
drawSeries(main, rrHours, rrMean, yR, "#ff0000", 4);

// frame
svg.append("path")
  .attr("d", "M50,0V600H690V0")
  .attr("fill", "none").attr("stroke", "#000").attr("stroke-width", 2);

// axes
svg.append("g")
  .attr("transform", "translate(20,0)")
  .call(d3.axisLeft(yT).tickValues(leftTicks).tickSize(0).tickPadding(0))
  .call(function(g){ g.select(".domain").remove(); })
  .attr("text-anchor", "start").attr("font-size", 12)
  .selectAll("text").attr("x", 0).attr("dy", "0.48em");
svg.append("g")
  .attr("transform", "translate(710,0)")
  .call(d3.axisRight(yR).tickValues(rightTicks).tickSize(0).tickPadding(0))
  .call(function(g){ g.select(".domain").remove(); })
  .attr("font-size", 12)
  .selectAll("text").attr("x", 0).attr("dy", "0.48em");
svg.append("g")
  .attr("transform", "translate(0,600)")
  .call(d3.axisBottom(x).tickValues(dayHours).tickSize(0).tickFormat(function(d, i){ return dayLabels[i]; }))
  .call(function(g){ g.select(".domain").remove(); })
  .attr("font-size", 10).attr("text-anchor", "end")
  .selectAll("text")
    .attr("transform", "rotate(-90)")
    .attr("x", -3).attr("y", 10).attr("dy", 0);

svg.append("text").attr("x", 20).attr("y", 609).attr("font-size", 10).text("(°C)");
svg.append("text").attr("x", 710).attr("y", 610).attr("font-size", 10).text("(mm)");
svg.append("text").attr("x", 60).attr("y", 60).attr("font-size", 10).text("Temp. 850hPa");
svg.append("text").attr("x", 60).attr("y", 285).attr("font-size", 10).text("Temp. 500hPa");
svg.append("text").attr("x", 59).attr("y", 331).attr("font-size", 10).text("Précipitations");

// legend
var leg = svg.append("g").attr("font-size", 10);
[["#ff0000", 35, 637, 75, 641, "Moyenne des scénarios"],
 ["#0000ff", 225, 637, 265, 641, "Run de contrôle"],
 ["#000", 225, 647, 265, 651, "Run CEP/ECMWF"]].forEach(function(r){
  leg.append("line").attr("x1", r[1]).attr("x2", r[1] + 30).attr("y1", r[2]).attr("y2", r[2])
    .attr("stroke", r[0]).attr("stroke-width", 4);
  leg.append("text").attr("x", r[3]).attr("y", r[4]).text(r[5]);
});
leg.append("text").attr("x", 369).attr("y", 656).text("50 Perts.");

var cells = leg.append("g");
cells.selectAll("rect").data(pertColors).enter().append("rect")
  .attr("x", function(d, i){ return 430 + (i % 25) * 11; })
  .attr("y", function(d, i){ return i < 25 ? 645 : 652; })
  .attr("width", 10).attr("height", 6)
  .attr("fill", function(d){ return d; });
cells.selectAll("text").data(pertColors).enter().append("text")
  .attr("x", function(d, i){ return 435 + (i % 25) * 11; })
  .attr("y", function(d, i){ return i < 25 ? 643 : 666; })
  .attr("text-anchor", "middle").attr("font-size", 8).attr("font-weight", "bold")
  .text(function(d, i){ return d3.format("02d")(i + 1); });

// title block
svg.append("rect").attr("x", 20).attr("y", 667).attr("width", 420).attr("height", 32)
  .attr("fill", "none").attr("stroke", "#000").attr("stroke-width", 1.5);
svg.append("text").attr("x", 30).attr("y", 681).attr("font-size", 11.5).attr("font-weight", "bold")
  .text("Diagramme ensembles ECMWF/CEP 0.4° sur 360h pour Lyon");
svg.append("text").attr("x", 30).attr("y", 695).attr("font-size", 10)
  .text("Températures 850hPa et 500hPa (°C) , précipitations (mm)");
svg.append("text").attr("x", 450).attr("y", 679).attr("font-size", 10)
  .text("Ensemble ECMWF/CEP du 11/07/2023 - 12Z");
svg.append("text").attr("x", 450).attr("y", 696).attr("font-size", 11.5).attr("font-weight", "bold")
  .text("Copyright 2023 Meteociel.fr - ECMWF");
</script>
</body>
</html>
